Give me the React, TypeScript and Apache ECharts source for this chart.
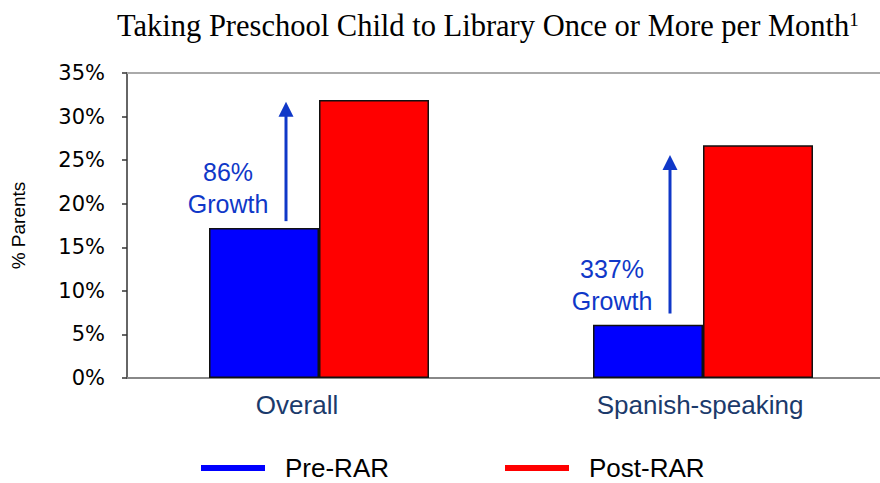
import React, { useEffect, useRef } from 'react';
import * as echarts from 'echarts';

const categories = ['Overall', 'Spanish-speaking'];
const seriesNames = ['Pre-RAR', 'Post-RAR'];
const preRAR = [17.2, 6.1];
const postRAR = [31.9, 26.7];
const growthLabels = ['86%', '337%'];
const arrowTail = [18.0, 7.4];
const arrowTip = [31.7, 25.6];
const yMin = 0;
const yMax = 35;
const yInterval = 5;

export default function App() {
  const ref = useRef<HTMLDivElement>(null);
  useEffect(() => {
    const chart = echarts.init(ref.current!, null, { renderer: 'svg' });
    const legendText = {
      fontFamily: 'Liberation Sans',
      fontSize: 26,
      lineHeight: 26,
      color: '#000',
      padding: [0, 0, 0, 15],
    };
    const catLabelStyle = { fontFamily: 'Liberation Sans', fontSize: 26, color: '#1b3a6b' };
    chart.setOption({
      animation: false,
      title: {
        text: '{m|Taking Preschool Child to Library Once or More per Month}{s|1}',
        left: 112,
        top: 5,
        textStyle: {
          fontFamily: 'Liberation Serif', fontSize: 30.5, fontWeight: 'normal', color: '#000',
          rich: {
            m: { fontFamily: 'Liberation Serif', fontSize: 30.5, color: '#000' },
            s: { fontFamily: 'Liberation Serif', fontSize: 19, color: '#000', verticalAlign: 'top' },
          },
        },
      },
      grid: { left: 127, right: -15, top: 73, bottom: 105, outerBoundsMode: 'none', containLabel: false },
      legend: [
        {
          data: [seriesNames[0]], left: 201, top: 455, padding: 0, itemWidth: 64, itemHeight: 6, icon: 'rect',
          itemStyle: { borderWidth: 0 }, textStyle: legendText,
        },
        {
          data: [seriesNames[1]], left: 505, top: 455, padding: 0, itemWidth: 64, itemHeight: 6, icon: 'rect',
          itemStyle: { borderWidth: 0 }, textStyle: legendText,
        },
      ],
      xAxis: [
        {
          type: 'category',
          data: categories,
          position: 'bottom',
          axisLine: { lineStyle: { color: '#888', width: 2 } },
          axisTick: { show: false },
          axisLabel: {
            ...catLabelStyle,
            margin: 14,
            formatter: (v: string, i: number) => (i === 0 ? '{o|' + v + '}' : '{n|' + v + '}'),
            rich: {
              o: { ...catLabelStyle, padding: [0, 44, 0, 0] },
              n: { ...catLabelStyle, padding: [0, 6, 0, 0] },
            },
          },
        },
        {
          type: 'category',
          data: categories,
          position: 'top',
          axisLine: { show: true, lineStyle: { color: '#aaa', width: 2 } },
          axisTick: { show: false },
          axisLabel: { show: false },
        },
      ],
      yAxis: {
        type: 'value',
        min: yMin,
        max: yMax,
        interval: yInterval,
        name: '% Parents',
        nameLocation: 'middle',
        nameRotate: 90,
        nameGap: 99,
        nameTextStyle: { fontFamily: 'Liberation Sans', fontSize: 19, color: '#000' },
        axisLine: { show: true, lineStyle: { color: '#333', width: 1.5 } },
        axisTick: { show: true, inside: false, length: 5, lineStyle: { color: '#333', width: 1.5 } },
        axisLabel: { formatter: '{value}%', fontFamily: 'DejaVu Sans', fontSize: 21, color: '#000', margin: 22 },
        splitLine: { show: false },
      },
      series: [
        {
          name: seriesNames[0], type: 'bar', data: preRAR, barWidth: 110, barGap: '0%', xAxisIndex: 0,
          itemStyle: { color: '#0000ff', borderColor: '#111', borderWidth: 1.5 },
        },
        {
          name: seriesNames[1], type: 'bar', data: postRAR, barWidth: 110, barGap: '0%', xAxisIndex: 0,
          itemStyle: { color: '#ff0000', borderColor: '#111', borderWidth: 1.5 },
        },
      ],
    });

    const blue = '#1038c8';
    const graphics: any[] = [];
    categories.forEach((c, i) => {
      const tail = chart.convertToPixel({ gridIndex: 0 }, [i, arrowTail[i]]) as number[];
      const tip = chart.convertToPixel({ gridIndex: 0 }, [i, arrowTip[i]]) as number[];
      const pre = chart.convertToPixel({ gridIndex: 0 }, [i, preRAR[i]]) as number[];
      const cx = tail[0];
      const ax = cx - 33;
      graphics.push({
        type: 'line',
        shape: { x1: ax, y1: tail[1], x2: ax, y2: tip[1] + 14 },
        style: { stroke: blue, lineWidth: 3 },
      });
      graphics.push({
        type: 'polygon',
        shape: { points: [[ax - 7.5, tip[1] + 15], [ax + 7.5, tip[1] + 15], [ax, tip[1]]] },
        style: { fill: blue },
      });
      graphics.push({
        type: 'text',
        x: cx - 91,
        y: pre[1] - 40,
        style: {
          text: growthLabels[i] + '\nGrowth',
          fontFamily: 'Liberation Sans',
          fontSize: 25,
          lineHeight: 32,
          fill: blue,
          align: 'center',
          verticalAlign: 'middle',
        },
      });
    });
    chart.setOption({ graphic: graphics });

    return () => chart.dispose();
  }, []);
  return <div ref={ref} style={{ position: 'absolute', left: 0, top: 0, width: 880, height: 483 }} />;
}
